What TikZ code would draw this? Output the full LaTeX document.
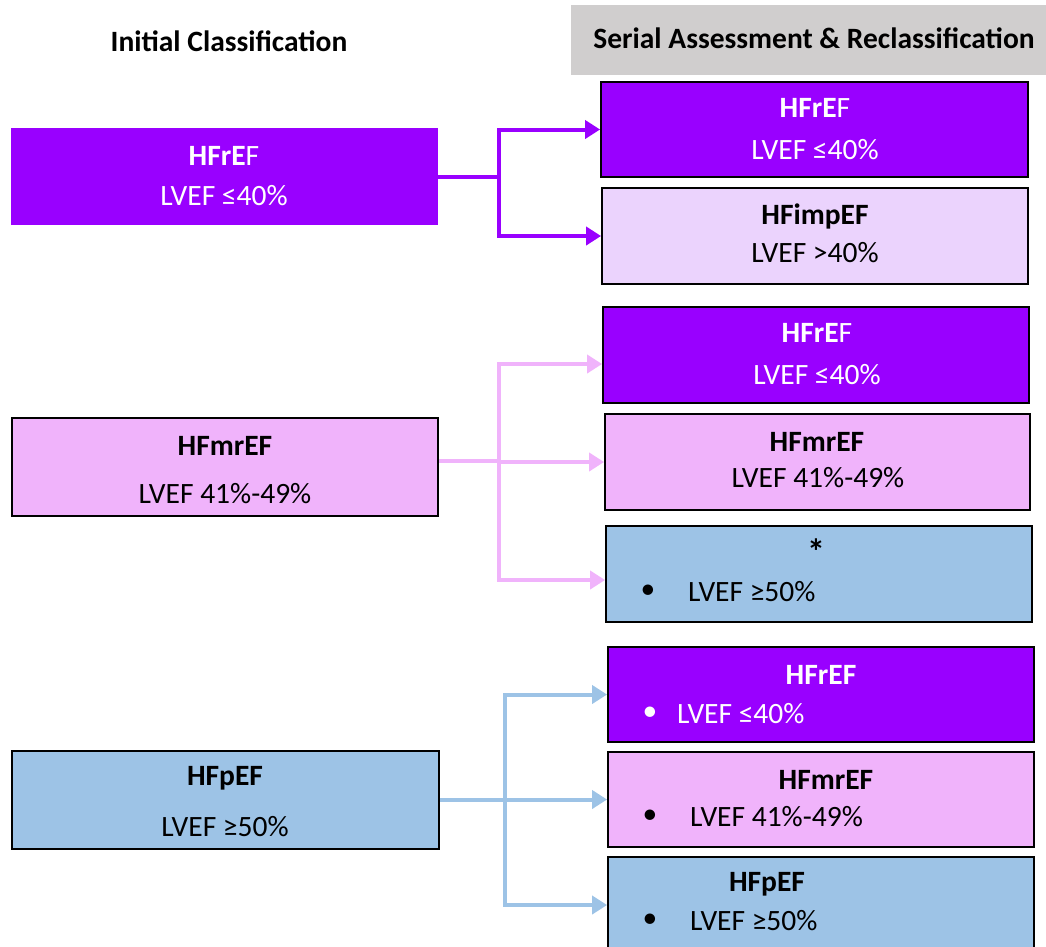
\documentclass[tikz,border=0pt]{standalone}
\usepackage{fontspec}
\setmainfont{Carlito}
\usetikzlibrary{arrows.meta}
\definecolor{hfr}{HTML}{9900FF}
\definecolor{hfmr}{HTML}{F0B3FB}
\definecolor{hfimp}{HTML}{EBD3FD}
\definecolor{hfp}{HTML}{9DC3E6}
\definecolor{hdr}{HTML}{D0CECE}
\tikzset{
  box/.style={draw=black, line width=1.8pt, minimum width=426pt, minimum height=96pt, inner sep=0pt},
  txt/.style={inner sep=0pt, font=\fontsize{29.5}{34}\selectfont},
  wtxt/.style={txt, text=white},
  hd/.style={inner sep=0pt, font=\fontsize{29.5}{34}\selectfont\bfseries},
  conn/.style={line width=4pt},
  arr/.style={line width=4pt, -{Triangle[length=15pt,width=18pt]}},
}
\begin{document}
\begin{tikzpicture}[x=1pt,y=-1pt]
\useasboundingbox (0,0) rectangle (1046,946);
% headers
\node[hd] (hinit) at (229,41) {Initial Classification};
\node[fill=hdr, minimum width=475pt, minimum height=70pt, inner sep=0pt] (hser) at (808.5,40) {};
\node[hd] (hsert) at (814,38) {Serial Assessment \& Reclassification};
% left boxes
\node[fill=hfr, minimum width=427pt, minimum height=97pt, inner sep=0pt] (L1) at (224.5,176.5) {};
\node[wtxt] (L1a) at (224,156) {\textbf{HFrE}F};
\node[wtxt] (L1b) at (224,196) {LVEF ≤40\%};
\node[box, fill=hfmr, minimum height=98pt] (L2) at (225,467) {};
\node[txt] (L2a) at (225,446) {\textbf{HFmrEF}};
\node[txt] (L2b) at (225,494) {LVEF 41\%-49\%};
\node[box, fill=hfp, minimum width=427pt, minimum height=98pt] (L3) at (225.5,800) {};
\node[txt] (L3a) at (225,778) {\textbf{HFpEF}};
\node[txt] (L3b) at (225,827) {LVEF ≥50\%};
% group 1
\node[box, fill=hfr, minimum width=427pt, minimum height=95pt] (R1a) at (814.5,129.5) {};
\node[wtxt] (R1at) at (815,108) {\textbf{HFrE}F};
\node[wtxt] (R1ab) at (815,150) {LVEF ≤40\%};
\node[box, fill=hfimp] (R1b) at (815,236) {};
\node[txt] (R1bt) at (815,216) {\textbf{HFimpEF}};
\node[txt] (R1bb) at (815,253) {LVEF >40\%};
% group 2
\node[box, fill=hfr] (R2a) at (816,355) {};
\node[wtxt] (R2at) at (817,333) {\textbf{HFrE}F};
\node[wtxt] (R2ab) at (817,375) {LVEF ≤40\%};
\node[box, fill=hfmr, minimum width=425pt] (R2b) at (817.5,462) {};
\node[txt] (R2bt) at (817,442) {\textbf{HFmrEF}};
\node[txt] (R2bb) at (818,478) {LVEF 41\%-49\%};
\node[box, fill=hfp] (R2c) at (819,574) {};
\node[txt, font=\fontsize{36}{40}\selectfont\bfseries] (R2ct) at (816,552) {*};
\node[txt] (R2cd) at (648,592) {•};
\node[txt, anchor=west] (R2cb) at (688,592) {LVEF ≥50\%};
% group 3
\node[box, fill=hfr, minimum height=95pt] (R3a) at (821,694.5) {};
\node[wtxt] (R3at) at (821,675) {\textbf{HFrEF}};
\node[wtxt] (R3ad) at (650,714) {•};
\node[wtxt, anchor=west] (R3ab) at (677,714) {LVEF ≤40\%};
\node[box, fill=hfmr, minimum height=95pt] (R3b) at (821,799.5) {};
\node[txt] (R3bt) at (826,780) {\textbf{HFmrEF}};
\node[txt] (R3bd) at (650,817) {•};
\node[txt, anchor=west] (R3bb) at (690,817) {LVEF 41\%-49\%};
\node[box, fill=hfp] (R3c) at (821,905) {};
\node[txt] (R3ct) at (767,884) {\textbf{HFpEF}};
\node[txt] (R3cd) at (650,921) {•};
\node[txt, anchor=west] (R3cb) at (690,921) {LVEF ≥50\%};
% connectors group 1
\coordinate (j1) at (499,177);
\draw[conn, draw=hfr] (L1.east |- j1) -- (j1);
\draw[arr, draw=hfr] (j1) |- (R1a.west);
\draw[arr, draw=hfr] (j1) |- (R1b.west);
% connectors group 2
\coordinate (j2) at (499,461);
\draw[conn, draw=hfmr] (L2.east |- j2) -- (j2);
\draw[arr, draw=hfmr] (j2) |- ([yshift=-9pt]R2a.west);
\draw[arr, draw=hfmr] (j2) |- (R2b.west);
\draw[arr, draw=hfmr] (j2) |- ([yshift=-6pt]R2c.west);
% connectors group 3
\coordinate (j3) at (505,800);
\draw[conn, draw=hfp] (L3.east |- j3) -- (j3);
\draw[arr, draw=hfp] (j3) |- (R3a.west);
\draw[arr, draw=hfp] (j3) |- (R3b.west);
\draw[arr, draw=hfp] (j3) |- (R3c.west);
\end{tikzpicture}
\end{document}
